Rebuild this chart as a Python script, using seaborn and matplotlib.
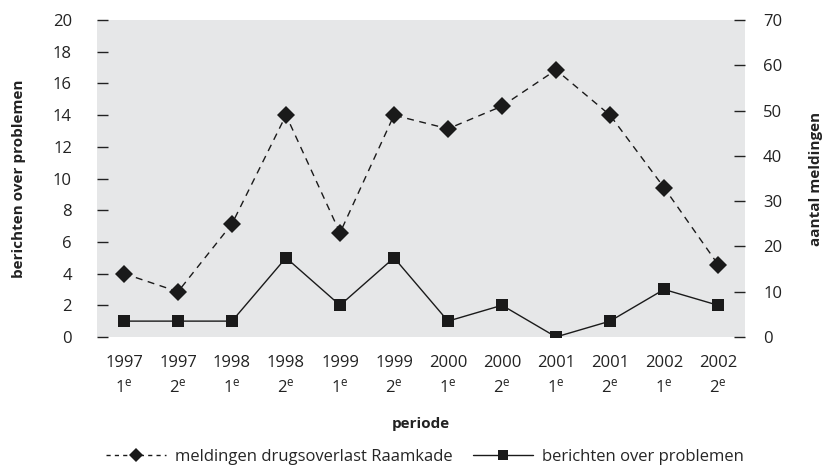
import numpy as np
import pandas as pd
import seaborn as sns
import matplotlib.pyplot as plt
from matplotlib.lines import Line2D

# Data
years = ['1997', '1997', '1998', '1998', '1999', '1999', '2000', '2000', '2001', '2001', '2002', '2002']
halves = ['1', '2', '1', '2', '1', '2', '1', '2', '1', '2', '1', '2']
meldingen = [14, 10, 25, 49, 23, 49, 46, 51, 59, 49, 33, 16]
berichten = [1, 1, 1, 5, 2, 5, 1, 2, 0, 1, 3, 2]

sns.set_style("white")
plt.rcParams['font.family'] = ['Open Sans', 'DejaVu Sans']
plt.rcParams['mathtext.fontset'] = 'custom'
plt.rcParams['mathtext.rm'] = 'Open Sans'
plt.rcParams['mathtext.it'] = 'Open Sans'

df = pd.DataFrame({'pos': np.arange(len(years)), 'meldingen': meldingen, 'berichten': berichten})
labels = [f"{y}\n{h}$^{{\\mathrm{{e}}}}$" for y, h in zip(years, halves)]

fig = plt.figure(figsize=(8.24, 4.68), dpi=100)
ax = fig.add_axes([0.1177, 0.280, 0.7865, 0.677])
ax2 = ax.twinx()

ax.set_facecolor('#e6e7e8')
ax2.patch.set_visible(False)

sns.lineplot(data=df, x='pos', y='berichten', ax=ax, color='#1a1a1a', lw=1.0,
             marker='s', markersize=9, markeredgewidth=0, markerfacecolor='#1a1a1a')
sns.lineplot(data=df, x='pos', y='meldingen', ax=ax2, color='#1a1a1a', lw=1.0,
             linestyle=(0, (5, 4)), marker='D', markersize=9, markeredgewidth=0,
             markerfacecolor='#1a1a1a')

ax.set_xlim(-0.5, 11.5)
ax.set_ylim(0, 20)
ax2.set_ylim(0, 70)
ax.set_yticks(range(0, 21, 2))
ax2.set_yticks(range(0, 71, 10))

ax.set_xticks(np.arange(-0.5, 12, 1))
ax.set_xticklabels([])
ax.set_xticks(np.arange(12), labels, minor=True)
ax.tick_params(axis='x', which='major', direction='inout', length=10, width=1, color='#333333')
ax.tick_params(axis='x', which='minor', length=0, pad=13, labelsize=12, colors='#222222')
for t in ax.get_xticklabels(minor=True):
    t.set_linespacing(1.5)

ax.tick_params(axis='y', direction='in', length=8, width=1, pad=18, labelsize=12,
               colors='#222222', left=True)
ax2.tick_params(axis='y', direction='in', length=8, width=1, pad=13, labelsize=12,
                colors='#222222', right=True)

for a in (ax, ax2):
    for s in a.spines.values():
        s.set_visible(False)

ax.set_xlabel('periode', fontsize=11, fontweight='bold', labelpad=15, color='#222222')
ax.set_ylabel('berichten over problemen', fontsize=11, fontweight='bold', labelpad=19, color='#222222')
ax2.set_ylabel('aantal meldingen', fontsize=11, fontweight='bold', labelpad=19, color='#222222')

handles = [
    Line2D([], [], color='#1a1a1a', lw=1.0, linestyle=(0, (3, 3)), marker='D',
           markersize=7, markeredgewidth=0),
    Line2D([], [], color='#1a1a1a', lw=1.0, marker='s', markersize=7, markeredgewidth=0),
]
fig.legend(handles, ['meldingen drugsoverlast Raamkade', 'berichten over problemen'],
           loc='center', bbox_to_anchor=(0.516, 0.023), ncol=2, frameon=False,
           fontsize=12, handlelength=3.6, columnspacing=1.2, handletextpad=0.55)

fig.savefig('out.png', dpi=100)
